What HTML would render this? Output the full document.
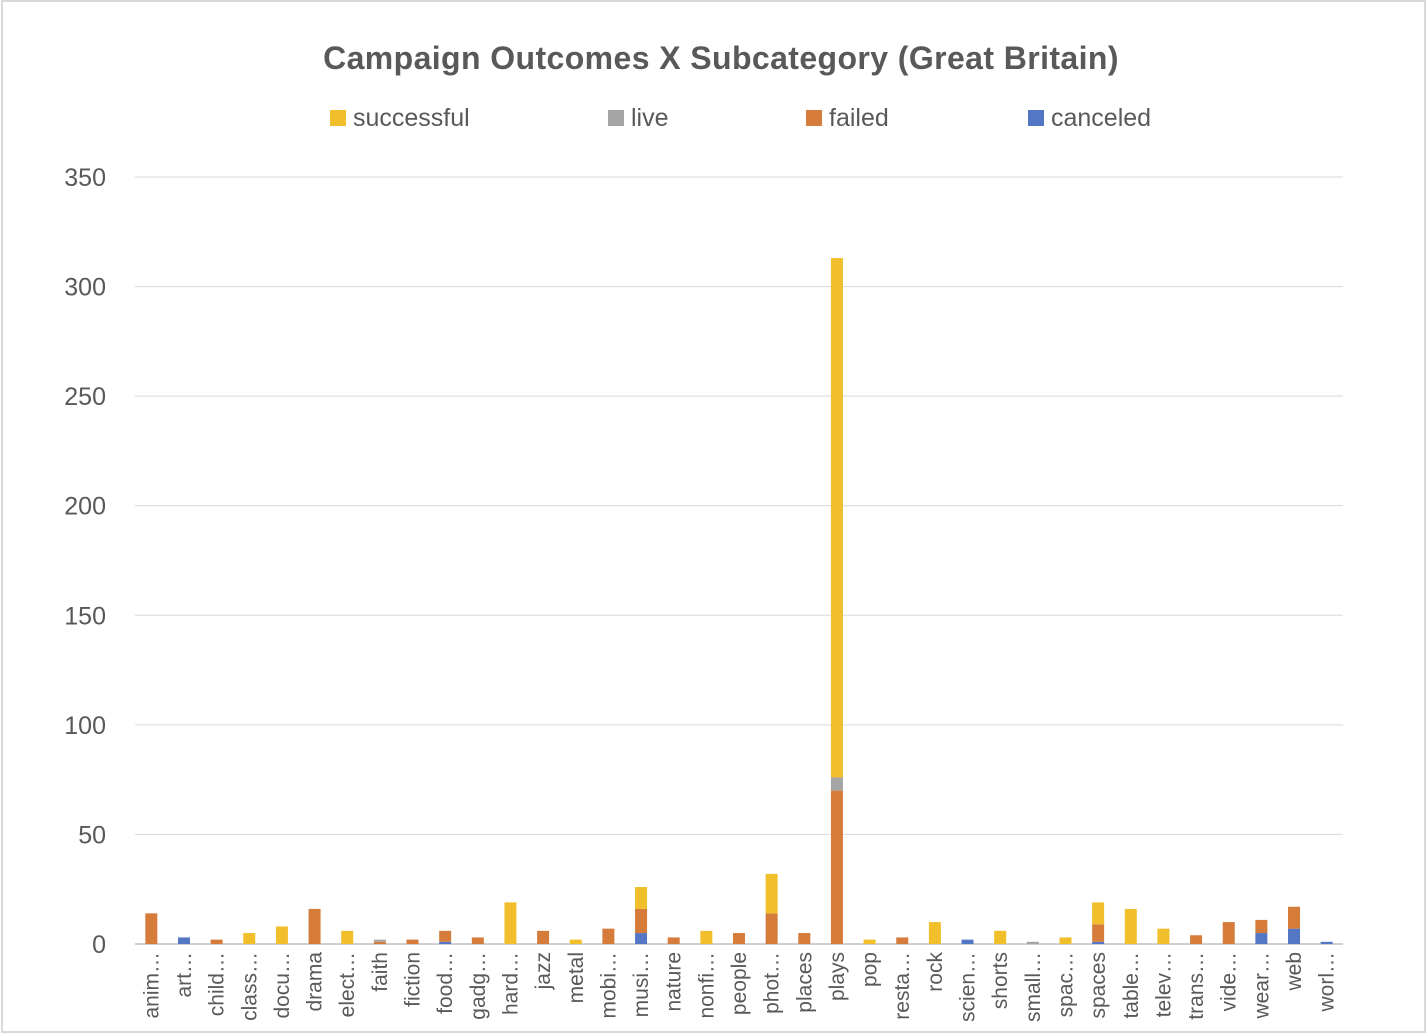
<!DOCTYPE html>
<html><head><meta charset="utf-8"><style>
html,body{margin:0;padding:0;background:#fff}
svg{display:block;font-family:"Liberation Sans",sans-serif}
</style></head><body>
<svg id="chart" width="1427" height="1035" viewBox="0 0 1427 1035">
<rect x="2" y="1" width="1423" height="1031" fill="#fff" stroke="#d9d9d9" stroke-width="2"/>
<text x="721" y="69" text-anchor="middle" font-size="32" font-weight="bold" letter-spacing="0.4" fill="#595959">Campaign Outcomes X  Subcategory (Great Britain)</text>
<g id="legend"></g>
<g id="grid"></g>
<g id="yaxis"></g>
<g id="bars"></g>
<g id="xaxis"></g>
</svg>
<script>
const categories=["anim…","art…","child…","class…","docu…","drama","elect…","faith","fiction","food…","gadg…","hard…","jazz","metal","mobi…","musi…","nature","nonfi…","people","phot…","places","plays","pop","resta…","rock","scien…","shorts","small…","spac…","spaces","table…","telev…","trans…","vide…","wear…","web","worl…"];
const canceled=[0,3,0,0,0,0,0,0,0,1,0,0,0,0,0,5,0,0,0,0,0,0,0,0,0,2,0,0,0,1,0,0,0,0,5,7,1];
const failed=[14,0,2,0,0,16,0,1,2,5,3,0,6,0,7,11,3,0,5,14,5,70,0,3,0,0,0,0,0,8,0,0,4,10,6,10,0];
const live=[0,0,0,0,0,0,0,1,0,0,0,0,0,0,0,0,0,0,0,0,0,6,0,0,0,0,0,1,0,0,0,0,0,0,0,0,0];
const successful=[0,0,0,5,8,0,6,0,0,0,0,19,0,2,0,10,0,6,0,18,0,237,2,0,10,0,6,0,3,10,16,7,0,0,0,0,0];
const yTicks=[0,50,100,150,200,250,300,350];
const seriesNames=["successful","live","failed","canceled"];
const colors={successful:"#f0bf2b",live:"#a5a5a5",failed:"#d57c3a",canceled:"#5477c5"};
const NS="http://www.w3.org/2000/svg";
const X0=135,X1=1343,Y0=944,Ymax=177,VMAX=350;
const bw=(X1-X0)/categories.length;
const y=v=>Y0-(v/VMAX)*(Y0-Ymax);
const xc=i=>X0+bw*(i+0.5);
function mk(t,a,p){const e=document.createElementNS(NS,t);for(const k in a)e.setAttribute(k,a[k]);p.appendChild(e);return e;}
const grid=document.getElementById('grid'),ya=document.getElementById('yaxis');
yTicks.forEach(v=>{
 const l=mk('line',{x1:X0,x2:X1,y1:y(v),y2:y(v),stroke:v===0?'#d0d0d0':'#d9d9d9','stroke-width':v===0?2:1},grid);
 
 
 const t=mk('text',{x:106,y:y(v)+9,'text-anchor':'end','font-size':25,fill:'#595959'},ya);
 t.textContent=v;
 
 
});
const bars=document.getElementById('bars'),xa=document.getElementById('xaxis');
const stack=[["canceled",canceled],["failed",failed],["live",live],["successful",successful]];
categories.forEach((c,i)=>{
 let base=0;
 stack.forEach(([n,arr])=>{
  const v=arr[i];if(!v)return;
  const r=mk('rect',{x:xc(i)-6,width:12,y:y(base+v),height:y(base)-y(base+v),fill:colors[n]},bars);
  
  
  base+=v;
 });
 const t=mk('text',{transform:`translate(${xc(i)+7},952) rotate(-90)`,'text-anchor':'end','font-size':21,fill:'#595959'},xa);
 t.textContent=c;
 
 
});
const lg=document.getElementById('legend');
const lx=[330,608,806,1028];
seriesNames.forEach((n,i)=>{
 const r=mk('rect',{x:lx[i],y:110,width:16,height:16,fill:colors[n]},lg);
 
 
 const t=mk('text',{x:lx[i]+23,y:126,'font-size':25,fill:'#595959'},lg);
 t.textContent=n;
 
 
});
</script>
</body></html>
